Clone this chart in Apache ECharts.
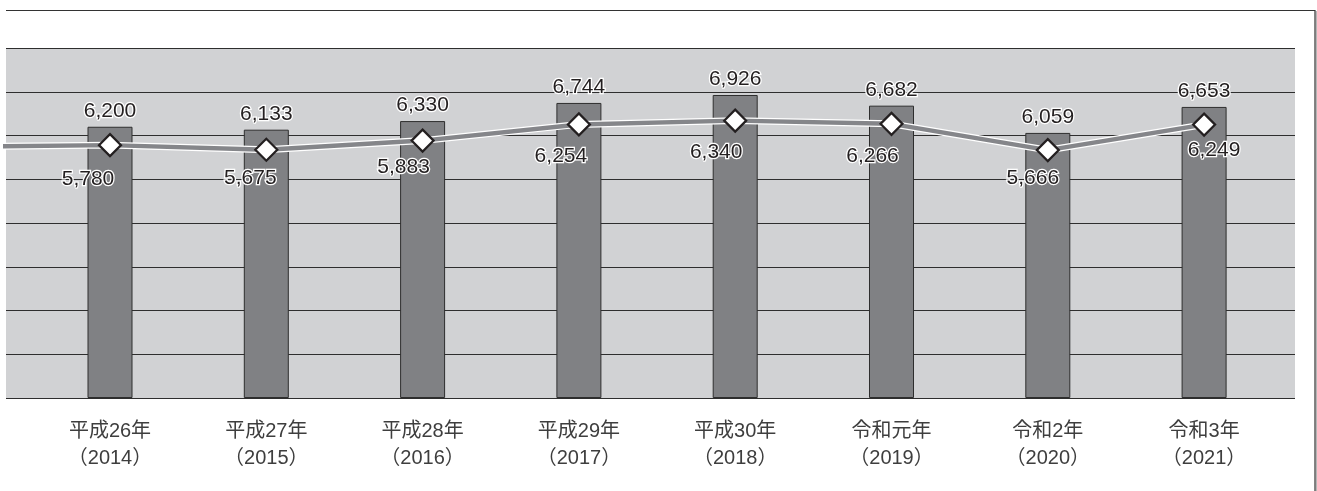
<!DOCTYPE html>
<html>
<head>
<meta charset="utf-8">
<script src="https://cdn.jsdelivr.net/npm/echarts@6/dist/echarts.min.js"></script>
<style>
  html, body { margin: 0; padding: 0; background: #fff; }
  #chart { width: 1317px; height: 491px; }
</style>
</head>
<body>
<div id="chart"></div>
<script>
// ---- data ----
const categories = [
  '平成26年\n（2014）', '平成27年\n（2015）', '平成28年\n（2016）', '平成29年\n（2017）',
  '平成30年\n（2018）', '令和元年\n（2019）', '令和2年\n（2020）', '令和3年\n（2021）'
];
const barValues  = [6200, 6133, 6330, 6744, 6926, 6682, 6059, 6653];
const lineValues = [5780, 5675, 5883, 6254, 6340, 6266, 5666, 6249];
// previous year (off the left edge, only its segment is visible)
const linePrevValue = 5740;
const yTicks = { min: 0, max: 8000, interval: 1000 };

// ---- styling (label offsets relative to marker centre) ----
const lineLabelOffsets = [[-22, 34], [-16, 28], [-19, 27], [-18, 32], [-19, 32], [-19, 32], [-15, 28], [10, 26]];

const fmt = v => v.toLocaleString('en-US');
const numFont = 'Liberation Sans, Arial, Helvetica, sans-serif';

// layout of the plot area (pixels)
const plotLeft = 6, plotRight = 1295, plotTop = 48, plotBottom = 398;
const firstCenter = 110, step = 156.3;
const xMin = (plotLeft - firstCenter) / step;
const xMax = (plotRight - firstCenter) / step;

const barData = barValues.map((v, i) => [i, v]);
const lineData = [[-1, linePrevValue]].concat(lineValues.map((v, i) => [i, v]));
const lineDataLabeled = [{ value: [-1, linePrevValue], label: { show: false }, symbol: 'none' }]
  .concat(lineValues.map((v, i) => ({
    value: [i, v],
    label: { offset: lineLabelOffsets[i] }
  })));

const chart = echarts.init(document.getElementById('chart'), null, { renderer: 'canvas' });
chart.setOption({
  animation: false,
  backgroundColor: '#ffffff',
  grid: [
    { left: plotLeft, right: 1317 - plotRight, top: plotTop, bottom: 491 - plotBottom,
      show: true, backgroundColor: '#d1d2d4', borderWidth: 0 },
    { left: firstCenter - step / 2, right: 1317 - (firstCenter + step * 7.5), top: plotTop, bottom: 491 - plotBottom }
  ],
  xAxis: [
    { type: 'value', gridIndex: 0, min: xMin, max: xMax, show: false },
    { type: 'category', gridIndex: 1, data: categories, boundaryGap: true,
      axisLine: { show: false }, axisTick: { show: false },
      axisLabel: { color: '#3e3e3e', fontSize: 20, lineHeight: 27, margin: 20,
        fontFamily: 'Liberation Sans, Noto Sans CJK JP, sans-serif' } }
  ],
  yAxis: [
    { type: 'value', gridIndex: 0, min: yTicks.min, max: yTicks.max, interval: yTicks.interval,
      axisLine: { show: false }, axisTick: { show: false }, axisLabel: { show: false },
      splitLine: { show: true, lineStyle: { color: '#2e2e2e', width: 1.2 } } },
    { type: 'value', gridIndex: 1, min: yTicks.min, max: yTicks.max, show: false }
  ],
  series: [
    {
      type: 'bar', xAxisIndex: 0, yAxisIndex: 0, data: barData, barWidth: 45, z: 2,
      itemStyle: { color: '#808184', borderColor: '#2e2e2e', borderWidth: 1 },
      label: { show: true, position: 'top', distance: 5, fontSize: 21, fontFamily: numFont,
        color: '#231f20', textBorderColor: '#ffffff', textBorderWidth: 2.5,
        formatter: p => fmt(p.value[1]) }
    },
    {
      type: 'line', xAxisIndex: 0, yAxisIndex: 0, data: lineData, z: 3,
      symbol: 'none', silent: true,
      lineStyle: { color: '#ffffff', width: 7 }
    },
    {
      type: 'line', xAxisIndex: 0, yAxisIndex: 0, data: lineDataLabeled, z: 4,
      symbol: 'diamond', symbolSize: 22, showAllSymbol: true,
      lineStyle: { color: '#85868a', width: 4.5 },
      itemStyle: { color: '#ffffff', borderColor: '#231f20', borderWidth: 2.2 },
      label: { show: true, position: 'inside', fontSize: 21, fontFamily: numFont,
        color: '#231f20', textBorderColor: '#ffffff', textBorderWidth: 2.5,
        formatter: p => fmt(p.value[1]) }
    }
  ],
  graphic: [
    { type: 'line', shape: { x1: 6, y1: 10.5, x2: 1315, y2: 10.5 },
      style: { stroke: '#333333', lineWidth: 1.2 }, z: 10 },
    { type: 'line', shape: { x1: 1316.5, y1: 11, x2: 1316.5, y2: 491 },
      style: { stroke: '#b5b5b5', lineWidth: 1.5 }, z: 10 },
    { type: 'line', shape: { x1: 1315, y1: 10, x2: 1315, y2: 491 },
      style: { stroke: '#333333', lineWidth: 1.2 }, z: 11 }
  ]
});
</script>
</body>
</html>
